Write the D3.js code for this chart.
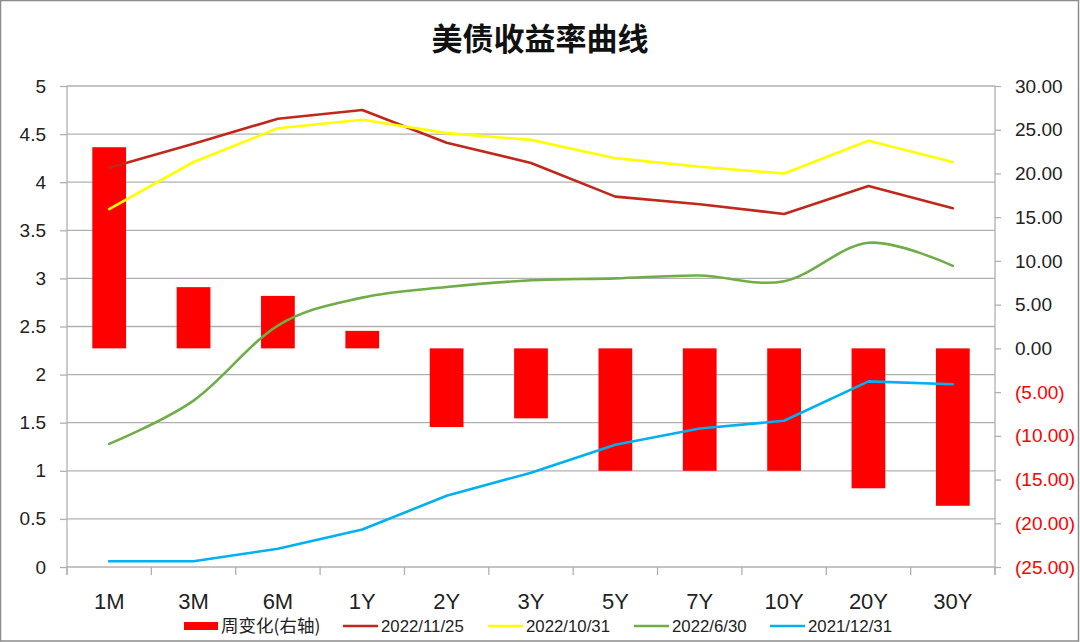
<!DOCTYPE html>
<html><head><meta charset="utf-8">
<script src="https://cdn.jsdelivr.net/npm/d3@7"></script>
<style>body{margin:0;background:#fff}svg{display:block}</style>
</head><body>
<svg id="c" width="1080" height="642"></svg>
<script>
const categories = ["1M","3M","6M","1Y","2Y","3Y","5Y","7Y","10Y","20Y","30Y"];
const weeklyChange = [23, 7, 6, 2, -9, -8, -14, -14, -14, -16, -18];
const y20221125 = [4.15, 4.40, 4.66, 4.75, 4.41, 4.20, 3.85, 3.77, 3.67, 3.96, 3.73];
const y20221031 = [3.72, 4.21, 4.56, 4.65, 4.51, 4.44, 4.25, 4.16, 4.09, 4.43, 4.21];
const y20220630 = [1.28, 1.73, 2.51, 2.80, 2.91, 2.98, 3.00, 3.03, 2.97, 3.37, 3.13];
const y20211231 = [0.06, 0.06, 0.19, 0.39, 0.74, 0.98, 1.27, 1.44, 1.52, 1.93, 1.90];
const leftTicks = [0,0.5,1,1.5,2,2.5,3,3.5,4,4.5,5];
const rightTicks = [30,25,20,15,10,5,0,-5,-10,-15,-20,-25];
const title = "美债收益率曲线";
const legendNames = ["周变化(右轴)","2022/11/25","2022/10/31","2022/6/30","2021/12/31"];

const W=1080,H=642;
const svg=d3.select("#c");
const m={l:67,r:995,t:86,b:567};
const font="'Liberation Sans', Arial, sans-serif";
const cjk="'Noto Sans CJK SC', 'Liberation Sans', sans-serif";

svg.append("rect").attr("x",0.5).attr("y",0.5).attr("width",W-2).attr("height",H-1.5)
  .attr("fill","#fff").attr("stroke","#8c8c8c").attr("stroke-width",1.5);

const x=d3.scaleBand().domain(categories).range([m.l,m.r]).paddingInner(0).paddingOuter(0);
const yL=d3.scaleLinear().domain([0,5]).range([m.b,m.t]);
const yR=d3.scaleLinear().domain([-25,30]).range([m.b,m.t]);

// gridlines
svg.append("g").selectAll("line").data(leftTicks.filter(d=>d>0)).join("line")
  .attr("x1",m.l).attr("x2",m.r).attr("y1",d=>yL(d)).attr("y2",d=>yL(d))
  .attr("stroke","#b0b0b0").attr("stroke-width",1.3);

// left axis
const gL=svg.append("g").attr("transform",`translate(${m.l},0)`)
  .call(d3.axisLeft(yL).tickValues(leftTicks).tickFormat(d3.format("")).tickSize(7).tickPadding(14));
gL.select(".domain").attr("stroke","#b0b0b0").attr("stroke-width",1.3).attr("d",`M-0,${m.t}V${m.b+8}`);
gL.selectAll(".tick line").attr("stroke","#b0b0b0").attr("stroke-width",1.3);
gL.selectAll("text").attr("font-family",font).attr("font-size",19).attr("fill","#222");

// right axis
const gR=svg.append("g").attr("transform",`translate(${m.r},0)`)
  .call(d3.axisRight(yR).tickValues(rightTicks)
    .tickFormat(d=>d<0?`(${d3.format(".2f")(-d)})`:d3.format(".2f")(d)).tickSize(6).tickPadding(14));
gR.select(".domain").attr("stroke","#b0b0b0").attr("stroke-width",1.3).attr("d",`M0,${m.t}V${m.b+8}`);
gR.selectAll(".tick line").attr("stroke","#b0b0b0").attr("stroke-width",1.3);
gR.selectAll("text").attr("font-family",font).attr("font-size",19).attr("fill",d=>d<0?"#ff0000":"#222");

// x axis
svg.append("line").attr("x1",m.l).attr("x2",m.r).attr("y1",m.b).attr("y2",m.b)
  .attr("stroke","#b0b0b0").attr("stroke-width",1.3);
const bounds=categories.map(c=>x(c)).concat([m.r]);
svg.append("g").selectAll("line").data(bounds).join("line")
  .attr("x1",d=>d).attr("x2",d=>d).attr("y1",m.b).attr("y2",m.b+8)
  .attr("stroke","#b0b0b0").attr("stroke-width",1.3);
svg.append("g").selectAll("text").data(categories).join("text")
  .attr("x",d=>x(d)+x.bandwidth()/2).attr("y",601).attr("dy","0.35em")
  .attr("text-anchor","middle").attr("font-family",font).attr("font-size",22).attr("fill","#222")
  .text(d=>d);

// bars
const bw=x.bandwidth()*0.4;
svg.append("g").selectAll("rect").data(weeklyChange).join("rect")
  .attr("x",(d,i)=>x(categories[i])+x.bandwidth()/2-bw/2)
  .attr("width",bw)
  .attr("y",d=>yR(Math.max(0,d)))
  .attr("height",d=>Math.abs(yR(d)-yR(0)))
  .attr("fill","#ff0000");

// lines
const cx=(d,i)=>x(categories[i])+x.bandwidth()/2;
const series=[
  {v:y20221125,c:"#c0281b",curve:d3.curveLinear},
  {v:y20221031,c:"#ffff00",curve:d3.curveLinear},
  {v:y20220630,c:"#70ad47",curve:d3.curveCatmullRom.alpha(0)},
  {v:y20211231,c:"#00b0f0",curve:d3.curveLinear}
];
series.forEach(s=>{
  svg.append("path").datum(s.v)
    .attr("d",d3.line().x(cx).y(d=>yL(d)).curve(s.curve))
    .attr("fill","none").attr("stroke",s.c).attr("stroke-width",2.6)
    .attr("stroke-linejoin","round").attr("stroke-linecap","round");
});

// title
svg.append("text").attr("x",540).attr("y",36).attr("dominant-baseline","central")
  .attr("text-anchor","middle").attr("font-family",cjk).attr("font-weight","bold")
  .attr("font-size",31).attr("fill","#111").text(title);

// legend
const ly=626;
const lg=svg.append("g");
lg.append("rect").attr("x",184).attr("y",ly-4).attr("width",34).attr("height",8).attr("fill","#ff0000");
lg.append("text").attr("x",221).attr("y",ly).attr("dy","0.35em").attr("font-family",cjk)
  .attr("font-size",17.5).attr("fill","#222").text(legendNames[0]);
const lineItems=[{x:343,c:"#c0281b"},{x:488,c:"#ffff00"},{x:634,c:"#70ad47"},{x:770,c:"#00b0f0"}];
lineItems.forEach((it,i)=>{
  lg.append("line").attr("x1",it.x).attr("x2",it.x+35).attr("y1",ly).attr("y2",ly)
    .attr("stroke",it.c).attr("stroke-width",2.6);
  lg.append("text").attr("x",it.x+38).attr("y",ly).attr("dy","0.35em").attr("font-family",font)
    .attr("font-size",16.8).attr("fill","#222").text(legendNames[i+1]);
});
</script>
</body></html>
